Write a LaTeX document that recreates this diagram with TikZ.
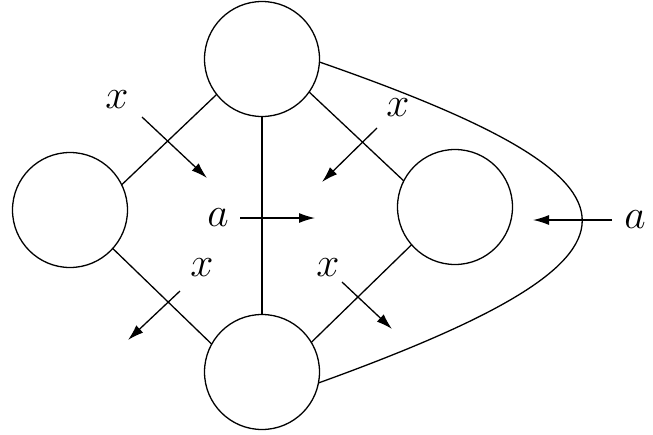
\documentclass[tikz,border=0pt]{standalone}
\usetikzlibrary{arrows.meta}
\begin{document}
\begin{tikzpicture}[x=0.5pt,y=-0.5pt,line width=0.65pt,
  state/.style={circle,draw,minimum size=57.5pt,inner sep=0pt,outer sep=0pt},
  lbl/.style={inner sep=0pt,font=\fontsize{21}{25}\selectfont},
  arr/.style={-{Latex[length=8pt,width=5pt]}}]
\useasboundingbox (0,0) rectangle (653,434);
\node[state] (T) at (262,59) {};
\node[state] (L) at (70,210) {};
\node[state] (R) at (455,207) {};
\node[state] (B) at (262,372) {};
% edges
\draw (L.26) -- (T.218);
\draw (T.325) -- (R.153);
\draw (L.-42) -- (B.151);
\draw (R.221.5) -- (B.31);
\draw (T.south) -- (B.north);
\draw (T.-3) .. controls (670,184) and (670,256) .. (B.-11);
% arrow end points
\coordinate (s1) at (142,117); \coordinate (e1) at (207,178);
\coordinate (s2) at (377,128); \coordinate (e2) at (322,182);
\coordinate (s3) at (180,291); \coordinate (e3) at (128,340);
\coordinate (s4) at (342,282); \coordinate (e4) at (392,329);
\coordinate (s5) at (240,218); \coordinate (e5) at (315,218);
\coordinate (s6) at (612,220); \coordinate (e6) at (533,220);
\draw[arr] (s1) -- (e1);
\draw[arr] (s2) -- (e2);
\draw[arr] (s3) -- (e3);
\draw[arr] (s4) -- (e4);
\draw[arr] (s5) -- (e5);
\draw[arr] (s6) -- (e6);
% labels
\node[lbl] (x1) at (117,100) {$x$};
\node[lbl] (x2) at (398,108) {$x$};
\node[lbl] (x3) at (202,268) {$x$};
\node[lbl] (x4) at (328,268) {$x$};
\node[lbl] (a1) at (218,218) {$a$};
\node[lbl] (a2) at (635,220) {$a$};
\end{tikzpicture}
\end{document}
